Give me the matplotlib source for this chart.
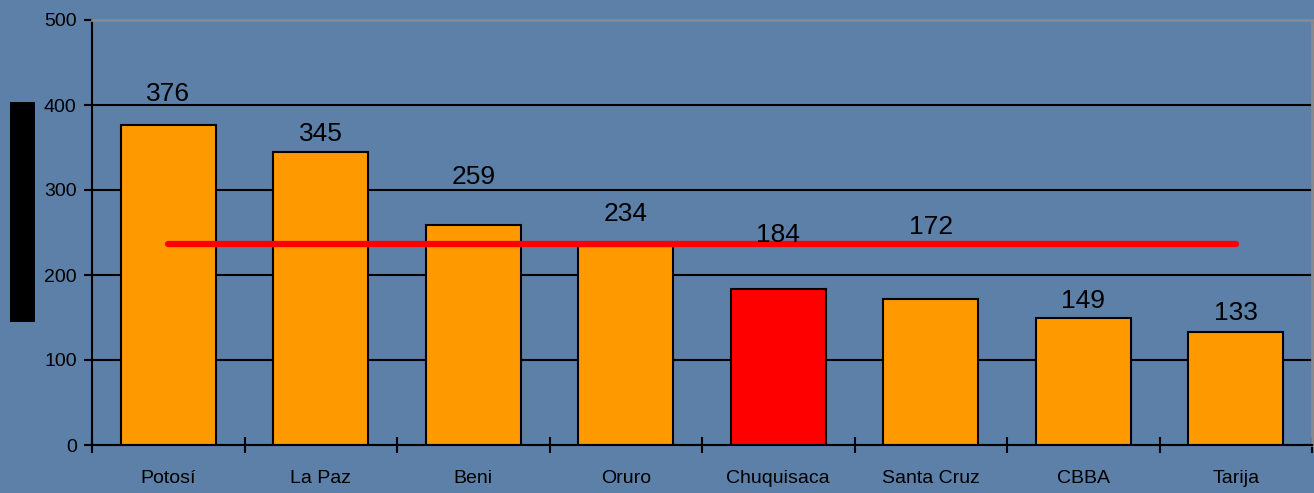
import matplotlib
matplotlib.use("Agg")
import matplotlib.pyplot as plt
from matplotlib.patches import Rectangle

categories = ["Potosí", "La Paz", "Beni", "Oruro", "Chuquisaca", "Santa Cruz", "CBBA", "Tarija"]
values = [376, 345, 259, 234, 184, 172, 149, 133]
label_y = [413, 366, 315, 272, 247, 256, 170, 155]
bar_colors = ["#FF9900", "#FF9900", "#FF9900", "#FF9900", "#FF0000", "#FF9900", "#FF9900", "#FF9900"]
average = 236
yticks = [0, 100, 200, 300, 400, 500]

plt.rcParams['font.family'] = ['Liberation Sans', 'DejaVu Sans']

W, H = 1314, 493
fig = plt.figure(figsize=(W / 100, H / 100), dpi=100)
bg = "#5c80a8"
fig.patch.set_facecolor(bg)
ax = fig.add_axes([92 / W, 1 - 445 / H, (1312 - 92) / W, (445 - 20) / H])
ax.set_facecolor(bg)

x = list(range(len(categories)))
ax.set_axisbelow(True)
ax.yaxis.grid(True, color="black", linewidth=1.5)
ax.bar(x, values, width=0.62, color=bar_colors, edgecolor="black", linewidth=1.5, zorder=2)
ax.plot([x[0], x[-1]], [average, average], color="#FF0000", linewidth=4.5, zorder=3, solid_capstyle="round")

for xi, v, ly in zip(x, values, label_y):
    ax.text(xi, ly, str(v), ha="center", va="center", fontsize=19, color="black", zorder=4)

ax.set_xlim(-0.5, len(categories) - 0.5)
ax.set_ylim(0, 500)
ax.set_yticks(yticks)
ax.set_yticklabels([str(t) for t in yticks], fontsize=14)
ax.set_xticks(x)
ax.set_xticklabels(categories, fontsize=14)
ax.tick_params(axis="x", length=0, pad=18)
ax.set_xticks([i + 0.5 for i in range(-1, len(categories))], minor=True)
ax.tick_params(axis="x", which="minor", direction="inout", length=12, width=1.5, color="black")
ax.tick_params(axis="y", direction="out", length=6, width=1.5, color="black", pad=5)

for s in ["left", "bottom"]:
    ax.spines[s].set_color("black")
    ax.spines[s].set_linewidth(1.5)
for s in ["top", "right"]:
    ax.spines[s].set_color("#8a8a8a")
    ax.spines[s].set_linewidth(2)

fig.patches.append(Rectangle((10 / W, 1 - 322 / H), 25 / W, 220 / H,
                             transform=fig.transFigure, facecolor="black", edgecolor="none"))

fig.savefig("out.png", dpi=100, facecolor=bg)
